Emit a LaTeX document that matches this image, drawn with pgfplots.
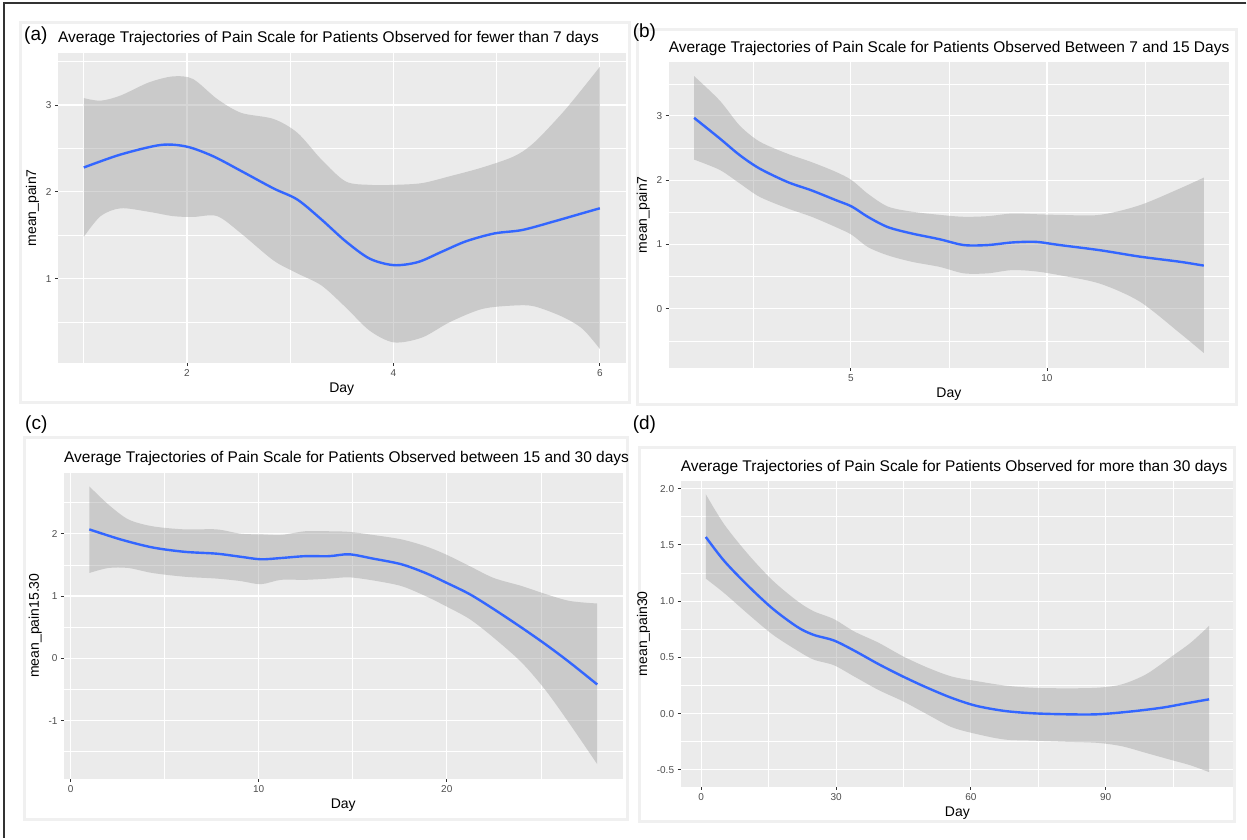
\documentclass[border=0pt]{standalone}
\usepackage{pgfplots}
\pgfplotsset{compat=1.18}
\usepgfplotslibrary{fillbetween}
\usepackage{pgfplotstable}
\usepackage{fontspec}
\setmainfont{Liberation Sans}
\definecolor{ggbg}{HTML}{EBEBEB}
\definecolor{ggband}{HTML}{999999}
\definecolor{ggline}{HTML}{3366FF}
\definecolor{ggtext}{HTML}{4D4D4D}
\definecolor{ggtick}{HTML}{333333}
\definecolor{frm}{HTML}{F0F0F0}

% ---------------- data ----------------
\pgfplotstableread{
x lo hi
1.000 1.48 3.08
1.163 1.72 3.05
1.358 1.81 3.11
1.630 1.77 3.26
1.864 1.72 3.33
2.058 1.71 3.30
2.292 1.72 3.07
2.525 1.52 2.91
2.837 1.21 2.84
3.070 1.06 2.68
3.304 0.92 2.37
3.537 0.67 2.12
3.770 0.40 2.08
4.004 0.265 2.08
4.276 0.32 2.10
4.549 0.50 2.18
4.860 0.65 2.28
5.171 0.69 2.41
5.366 0.68 2.57
5.638 0.56 2.91
5.833 0.42 3.19
6.000 0.19 3.44
}\bandA
\pgfplotstableread{
x y
1.000 2.28
1.358 2.43
1.747 2.54
2.000 2.52
2.253 2.41
2.525 2.24
2.837 2.04
3.070 1.91
3.304 1.68
3.537 1.43
3.770 1.23
4.004 1.155
4.237 1.19
4.470 1.31
4.704 1.43
4.977 1.52
5.249 1.56
5.560 1.66
5.794 1.74
6.000 1.81
}\lineA
\pgfplotstableread{
x lo hi
1.000 2.32 3.62
1.653 2.16 3.24
2.163 1.95 2.85
2.673 1.74 2.60
3.388 1.56 2.41
4.000 1.43 2.28
4.612 1.27 2.13
5.020 1.15 2.00
5.429 0.96 1.79
5.939 0.83 1.59
6.551 0.73 1.51
7.265 0.65 1.46
7.878 0.55 1.43
8.490 0.55 1.44
9.102 0.60 1.48
9.714 0.58 1.47
10.327 0.52 1.46
11.347 0.39 1.46
12.367 0.11 1.61
13.388 -0.38 1.87
14.000 -0.69 2.04
}\bandB
\pgfplotstableread{
x y
1.000 2.97
1.653 2.65
2.163 2.39
2.673 2.18
3.388 1.97
4.000 1.84
4.612 1.69
5.020 1.59
5.429 1.43
5.939 1.27
6.551 1.17
7.265 1.08
7.878 0.99
8.490 0.99
9.102 1.03
9.714 1.04
10.327 0.99
11.347 0.91
12.367 0.81
13.388 0.73
14.000 0.67
}\lineB
\pgfplotstableread{
x lo hi
1.000 1.37 2.76
2.006 1.45 2.47
3.074 1.45 2.23
4.354 1.37 2.12
6.062 1.31 2.07
7.769 1.28 2.07
9.050 1.24 2.00
10.117 1.19 1.99
11.185 1.26 1.98
12.465 1.26 2.04
13.746 1.28 2.04
14.813 1.30 2.03
16.094 1.25 1.98
17.588 1.16 1.91
18.869 1.00 1.80
19.936 0.84 1.67
21.217 0.63 1.48
22.497 0.33 1.29
23.991 -0.07 1.16
25.272 -0.52 1.03
26.553 -1.06 0.92
28.000 -1.70 0.88
}\bandC
\pgfplotstableread{
x y
1.000 2.07
2.647 1.91
4.354 1.78
6.062 1.71
7.769 1.68
9.050 1.63
10.117 1.59
11.185 1.61
12.465 1.64
13.746 1.64
14.813 1.67
16.094 1.60
17.588 1.51
18.869 1.37
19.936 1.22
21.217 1.03
22.497 0.79
23.991 0.49
25.272 0.22
26.553 -0.07
28.000 -0.42
}\lineC
\pgfplotstableread{
x lo hi
1.0 1.20 1.95
5.14 1.07 1.68
10.56 0.88 1.41
15.97 0.70 1.18
21.39 0.56 1.00
25.0 0.48 0.91
29.51 0.43 0.84
34.03 0.33 0.73
39.44 0.21 0.63
44.86 0.11 0.51
50.27 -0.006 0.41
55.69 -0.12 0.33
61.10 -0.18 0.29
67.42 -0.23 0.25
73.74 -0.24 0.23
80.96 -0.25 0.225
88.18 -0.26 0.23
93.59 -0.29 0.26
99.01 -0.35 0.35
104.4 -0.41 0.50
108.9 -0.46 0.63
113.0 -0.52 0.78
}\bandD
\pgfplotstableread{
x y
1.0 1.57
5.14 1.355
10.56 1.13
15.97 0.93
21.39 0.77
25.0 0.70
29.51 0.65
34.03 0.56
39.44 0.44
44.86 0.33
50.27 0.23
55.69 0.14
61.10 0.07
67.42 0.024
73.74 0.003
80.96 -0.006
88.18 -0.006
95.40 0.018
102.6 0.053
108.0 0.092
113.0 0.127
}\lineD

\pgfplotsset{gg/.style={
  scale only axis, anchor=north west,
  axis background/.style={fill=ggbg},
  axis line style={draw=none},
  grid=both,
  major grid style={white, line width=1.1pt},
  minor grid style={white, line width=0.55pt},
  tick pos=left,
  tick align=outside,
  major tick length=3pt, minor tick length=0pt,
  tick style={ggtick, line width=0.9pt},
  tick label style={font=\fontsize{10}{11}\selectfont, text=ggtext},
  xlabel={Day},
  label style={font=\fontsize{14}{16}\selectfont, text=black},
}}
\tikzset{band/.style={fill=ggband, fill opacity=0.4, draw=none},
         gl/.style={ggline, line width=2.4pt, smooth, tension=0.5},
         ptitle/.style={anchor=base west, inner sep=0pt, font=\fontsize{15.5}{18}\selectfont},
         plab/.style={anchor=base west, inner sep=0pt, font=\fontsize{19}{22}\selectfont}}

\begin{document}
\begin{tikzpicture}
\path (0pt,0pt) rectangle (1247pt,839pt);
% faint sub-figure frames
\draw[frm, line width=3pt] (21pt,816pt) rectangle (630pt,436pt);
\draw[frm, line width=3pt] (638pt,809pt) rectangle (1237pt,434pt);
\draw[frm, line width=3pt] (25pt,401pt) rectangle (628pt,19pt);
\draw[frm, line width=3pt] (640pt,391pt) rectangle (1235pt,17pt);
% outer border
\draw[black!80, line width=1.5pt] (1247pt,836pt) -- (4pt,836pt) -- (4pt,0pt);

% ---------------- (a) ----------------
\begin{axis}[gg, at={(58pt,786pt)}, width=568pt, height=310pt,
  xmin=0.75, xmax=6.25, ymin=0.03, ymax=3.6,
  xtick={2,4,6}, xticklabels={2,4,6},
  minor xtick={1,3,5},
  ytick={1,2,3}, yticklabels={1,2,3},
  minor ytick={0.5,1.5,2.5,3.5},
  ylabel={mean\_pain7}]
\addplot[name path=UA, draw=none, smooth] table[x=x,y=hi]{\bandA};
\addplot[name path=LA, draw=none, smooth] table[x=x,y=lo]{\bandA};
\addplot[band] fill between[of=UA and LA];
\addplot[gl] table[x=x,y=y]{\lineA};
\end{axis}
\node[plab] at (24pt,798pt) {(a)};
\node[ptitle] at (58pt,796pt) {Average Trajectories of Pain Scale for Patients Observed for fewer than 7 days};

% ---------------- (b) ----------------
\begin{axis}[gg, at={(669pt,777pt)}, width=561pt, height=306pt,
  xmin=0.35, xmax=14.65, ymin=-0.92, ymax=3.84,
  xtick={5,10}, xticklabels={5,10},
  minor xtick={2.5,7.5,12.5},
  ytick={0,1,2,3}, yticklabels={0,1,2,3},
  minor ytick={-0.5,0.5,1.5,2.5,3.5},
  ylabel={mean\_pain7}]
\addplot[name path=UB, draw=none, smooth] table[x=x,y=hi]{\bandB};
\addplot[name path=LB, draw=none, smooth] table[x=x,y=lo]{\bandB};
\addplot[band] fill between[of=UB and LB];
\addplot[gl] table[x=x,y=y]{\lineB};
\end{axis}
\node[plab] at (633pt,801pt) {(b)};
\node[ptitle] at (669pt,786pt) {Average Trajectories of Pain Scale for Patients Observed Between 7 and 15 Days};

% ---------------- (c) ----------------
\begin{axis}[gg, at={(64pt,366pt)}, width=559pt, height=306pt,
  xmin=-0.35, xmax=29.35, ymin=-1.93, ymax=2.98,
  xtick={0,10,20}, xticklabels={0,10,20},
  minor xtick={5,15,25},
  ytick={-1,0,1,2}, yticklabels={-1,0,1,2},
  minor ytick={-1.5,-0.5,0.5,1.5,2.5},
  ylabel={mean\_pain15.30}]
\addplot[name path=UC, draw=none, smooth] table[x=x,y=hi]{\bandC};
\addplot[name path=LC, draw=none, smooth] table[x=x,y=lo]{\bandC};
\addplot[band] fill between[of=UC and LC];
\addplot[gl] table[x=x,y=y]{\lineC};
\end{axis}
\node[plab] at (25pt,409pt) {(c)};
\node[ptitle] at (64pt,376pt) {Average Trajectories of Pain Scale for Patients Observed between 15 and 30 days};

% ---------------- (d) ----------------
\begin{axis}[gg, at={(681pt,358pt)}, width=554pt, height=306pt,
  xmin=-4.6, xmax=118.6, ymin=-0.648, ymax=2.07,
  xtick={0,30,60,90}, xticklabels={0,30,60,90},
  minor xtick={15,45,75,105},
  ytick={-0.5,0,0.5,1,1.5,2}, yticklabels={-0.5,0.0,0.5,1.0,1.5,2.0},
  minor ytick={-0.25,0.25,0.75,1.25,1.75},
  ylabel={mean\_pain30}]
\addplot[name path=UD, draw=none, smooth] table[x=x,y=hi]{\bandD};
\addplot[name path=LD, draw=none, smooth] table[x=x,y=lo]{\bandD};
\addplot[band] fill between[of=UD and LD];
\addplot[gl] table[x=x,y=y]{\lineD};
\end{axis}
\node[plab] at (633pt,409pt) {(d)};
\node[ptitle] at (681pt,367pt) {Average Trajectories of Pain Scale for Patients Observed for more than 30 days};
\end{tikzpicture}
\end{document}
